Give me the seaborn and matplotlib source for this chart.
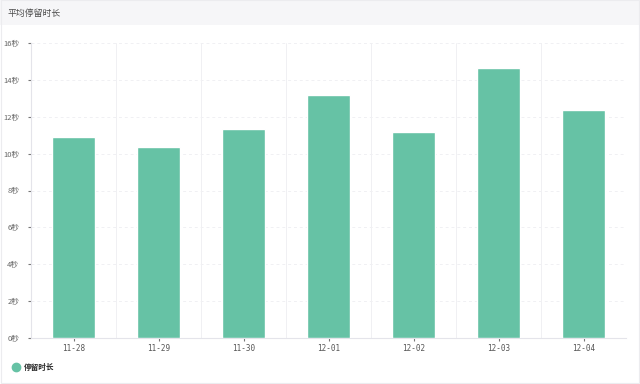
import pandas as pd
import numpy as np
import matplotlib.pyplot as plt
import seaborn as sns
from matplotlib.patches import Rectangle
from matplotlib.lines import Line2D

dates = ["11-28", "11-29", "11-30", "12-01", "12-02", "12-03", "12-04"]
stay = [10.9, 10.36, 11.33, 13.18, 11.17, 14.64, 12.36]
series_name = "停留时长"
title = "平均停留时长"
yticks = [0, 2, 4, 6, 8, 10, 12, 14, 16]

sns.set_style("white")
plt.rcParams["font.family"] = ["Noto Sans CJK SC", "DejaVu Sans"]

df = pd.DataFrame({"date": dates, "stay": stay})
bar_color = sns.color_palette("Set2")[0]

fig = plt.figure(figsize=(6.4, 3.84), dpi=100)
fig.patch.set_facecolor("white")
# title bar
fig.patches.append(Rectangle((0, 1 - 25 / 384), 1, 25 / 384, transform=fig.transFigure,
                             facecolor="#f6f6f8", edgecolor="none", zorder=0))
fig.patches.append(Rectangle((0.001, 0.003), 0.998, 0.996, transform=fig.transFigure,
                             facecolor="none", edgecolor="#ececef", lw=0.8, zorder=1))
fig.text(8 / 640, 1 - 13 / 384, title, fontsize=6.4, color="#4a4a4a", va="center", ha="left")

ax = fig.add_axes([31 / 640, 1 - 338 / 384, 595 / 640, 295 / 384])
sns.barplot(data=df, x="date", y="stay", color=bar_color, width=0.5, saturation=1, ax=ax, zorder=3)

ax.set_xlim(-0.5, len(dates) - 0.5)
ax.set_ylim(0, 16)
ax.set_yticks(yticks)
ax.set_yticklabels([f"{v}秒" for v in yticks], fontsize=5.5, color="#666666")
ax.set_xticks(range(len(dates)))
ax.set_xticklabels(dates, fontsize=5.5, color="#555555", family="DejaVu Sans Mono")
ax.set_xticks(np.arange(-0.5, len(dates)), minor=True)
ax.set_xlabel("")
ax.set_ylabel("")

ax.grid(axis="y", which="major", color="#f0f0f3", lw=0.7, ls=(0, (3, 3)), zorder=0)
ax.grid(axis="x", which="minor", color="#f0f0f3", lw=0.7, zorder=0)
ax.tick_params(axis="x", which="minor", length=0, bottom=False)
ax.tick_params(axis="x", which="major", bottom=True, length=2.5, width=0.8, color="#777777", pad=2)
ax.tick_params(axis="y", left=True, length=2.5, width=0.8, color="#777777", pad=6)

for s in ["top", "right"]:
    ax.spines[s].set_visible(False)
ax.spines["left"].set_color("#e4e4ea")
ax.spines["bottom"].set_color("#e4e4ea")
ax.spines["left"].set_linewidth(0.8)
ax.spines["bottom"].set_linewidth(0.8)

handle = Line2D([], [], marker="o", ls="", color=bar_color, markersize=6)
fig.legend([handle], [series_name], loc="center left", bbox_to_anchor=(9 / 640, 1 - 367 / 384),
           frameon=False, handletextpad=0.6, borderaxespad=0, handlelength=1.0,
           prop={"weight": "bold", "size": 5.5})

fig.savefig("out.png", dpi=100)
